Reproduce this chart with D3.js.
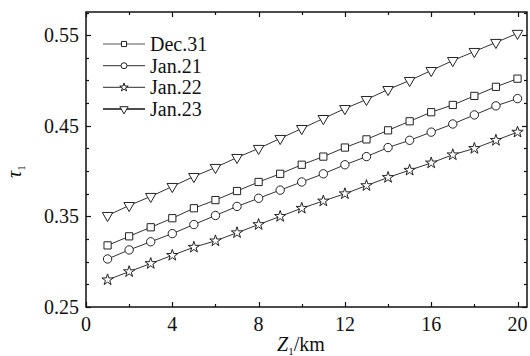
<!DOCTYPE html>
<html>
<head>
<meta charset="utf-8">
<script src="https://cdn.jsdelivr.net/npm/d3@7"></script>
<style>
  body { margin: 0; background: #fff; }
</style>
</head>
<body>
<div id="chart"></div>
<script>
// heights Z1 (km)
var zValues = [1, 2, 3, 4, 5, 6, 7, 8, 9, 10, 11, 12, 13, 14, 15, 16, 17, 18, 19, 20];

// tau1
var dec31 = [0.318, 0.328, 0.338, 0.348, 0.359, 0.368, 0.378, 0.388, 0.397, 0.407, 0.416, 0.426, 0.435, 0.445, 0.455, 0.465, 0.473, 0.483, 0.493, 0.502];
var jan21 = [0.303, 0.313, 0.322, 0.331, 0.341, 0.351, 0.361, 0.370, 0.379, 0.388, 0.397, 0.407, 0.416, 0.426, 0.434, 0.443, 0.452, 0.462, 0.472, 0.480];
var jan22 = [0.280, 0.289, 0.298, 0.307, 0.316, 0.323, 0.332, 0.341, 0.350, 0.359, 0.367, 0.375, 0.384, 0.393, 0.401, 0.409, 0.418, 0.425, 0.434, 0.443];
var jan23 = [0.351, 0.362, 0.372, 0.383, 0.394, 0.404, 0.415, 0.425, 0.436, 0.447, 0.458, 0.469, 0.479, 0.490, 0.500, 0.511, 0.522, 0.532, 0.542, 0.552];

var seriesNames = ['Dec.31', 'Jan.21', 'Jan.22', 'Jan.23'];
var xTickLabels = [0, 4, 8, 12, 16, 20];
var yTickLabels = [0.25, 0.35, 0.45, 0.55];

(function () {
  var width = 530, height = 356;
  var mLeft = 86, mRight = 527, mTop = 12, mBottom = 307;

  var svg = d3.select('#chart').append('svg')
    .attr('width', width)
    .attr('height', height)
    .style('font-family', '"Liberation Serif", "Times New Roman", serif')
    .style('fill', '#111');

  var x = d3.scaleLinear().domain([0, 20.44]).range([mLeft, mRight]);
  var y = d3.scaleLinear().domain([0.25, 0.5756]).range([mBottom, mTop]);

  // minor ticks every 2 km / 0.025
  var xMinor = d3.range(0, 20.01, 2);
  var yMinor = d3.range(0.25, 0.576, 0.025);

  function tickLen(isMajor) { return isMajor ? 5 : 3; }

  var ticks = svg.append('g').attr('stroke', '#111').attr('stroke-width', 1.2);
  xMinor.forEach(function (v) {
    var major = xTickLabels.indexOf(Math.round(v)) >= 0;
    var px = Math.round(x(v)) + 0.5;
    ticks.append('line').attr('x1', px).attr('x2', px).attr('y1', mBottom).attr('y2', mBottom - tickLen(major));
    ticks.append('line').attr('x1', px).attr('x2', px).attr('y1', mTop).attr('y2', mTop + tickLen(major));
  });
  yMinor.forEach(function (v) {
    var major = yTickLabels.some(function (t) { return Math.abs(t - v) < 1e-6; });
    var py = Math.round(y(v)) + 0.5;
    ticks.append('line').attr('x1', mLeft).attr('x2', mLeft + tickLen(major)).attr('y1', py).attr('y2', py);
    ticks.append('line').attr('x1', mRight).attr('x2', mRight - tickLen(major)).attr('y1', py).attr('y2', py);
  });

  // frame
  svg.append('rect')
    .attr('x', mLeft).attr('y', mTop)
    .attr('width', mRight - mLeft).attr('height', mBottom - mTop)
    .attr('fill', 'none').attr('stroke', '#111').attr('stroke-width', 1.5);

  // tick labels
  svg.append('g').selectAll('text').data(xTickLabels).enter().append('text')
    .attr('x', function (d) { return x(d); })
    .attr('y', 331)
    .attr('text-anchor', 'middle')
    .attr('font-size', 20)
    .text(function (d) { return d; });

  svg.append('g').selectAll('text').data(yTickLabels).enter().append('text')
    .attr('x', 79)
    .attr('y', function (d) { return y(d) + 7; })
    .attr('text-anchor', 'end')
    .attr('font-size', 20)
    .text(function (d) { return d.toFixed(2); });

  // axis titles
  var xt = svg.append('text').attr('x', 277).attr('y', 351).attr('font-size', 20);
  xt.append('tspan').attr('font-style', 'italic').text('Z');
  xt.append('tspan').attr('font-size', 11).attr('dy', 4).text('1');
  xt.append('tspan').attr('dy', -4).text('/km');

  var yt = svg.append('text')
    .attr('transform', 'translate(21,178) rotate(-90)')
    .attr('font-size', 20);
  yt.append('tspan').attr('font-style', 'italic').text('τ');
  yt.append('tspan').attr('font-size', 11).attr('dy', 4).text('1');

  // markers
  var symbols = [
    d3.symbol().type(d3.symbolSquare).size(52),
    d3.symbol().type(d3.symbolCircle).size(55),
    d3.symbol().type(d3.symbolStar).size(40),
    d3.symbol().type(d3.symbolTriangle).size(48)
  ];
  var rotations = [0, 0, 0, 180];
  var allSeries = [dec31, jan21, jan22, jan23];

  var line = d3.line()
    .x(function (d) { return x(d[0]); })
    .y(function (d) { return y(d[1]); });

  allSeries.forEach(function (vals, i) {
    var pts = zValues.map(function (z, j) { return [z, vals[j]]; });
    svg.append('path')
      .datum(pts)
      .attr('d', line)
      .attr('fill', 'none')
      .attr('stroke', '#333')
      .attr('stroke-width', 1);
    svg.append('g').selectAll('path').data(pts).enter().append('path')
      .attr('d', symbols[i])
      .attr('transform', function (d) {
        return 'translate(' + x(d[0]) + ',' + y(d[1]) + ') rotate(' + rotations[i] + ')';
      })
      .attr('fill', '#fff')
      .attr('stroke', '#222')
      .attr('stroke-width', 1);
  });

  // legend
  var legendSymbols = [
    d3.symbol().type(d3.symbolSquare).size(26),
    d3.symbol().type(d3.symbolCircle).size(28),
    d3.symbol().type(d3.symbolStar).size(22),
    d3.symbol().type(d3.symbolTriangle).size(30)
  ];
  var legend = svg.append('g');
  seriesNames.forEach(function (name, i) {
    var ly = 44 + i * 21.7;
    legend.append('line')
      .attr('x1', 103).attr('x2', 145).attr('y1', ly).attr('y2', ly)
      .attr('stroke', i === 3 ? '#111' : '#555').attr('stroke-width', i === 3 ? 1.5 : 1.2);
    legend.append('path')
      .attr('d', legendSymbols[i])
      .attr('transform', 'translate(124,' + ly + ') rotate(' + rotations[i] + ')')
      .attr('fill', '#fff').attr('stroke', '#222').attr('stroke-width', 1);
    legend.append('text')
      .attr('x', 150).attr('y', ly + 7)
      .attr('font-size', 20)
      .text(name);
  });
})();
</script>
</body>
</html>
